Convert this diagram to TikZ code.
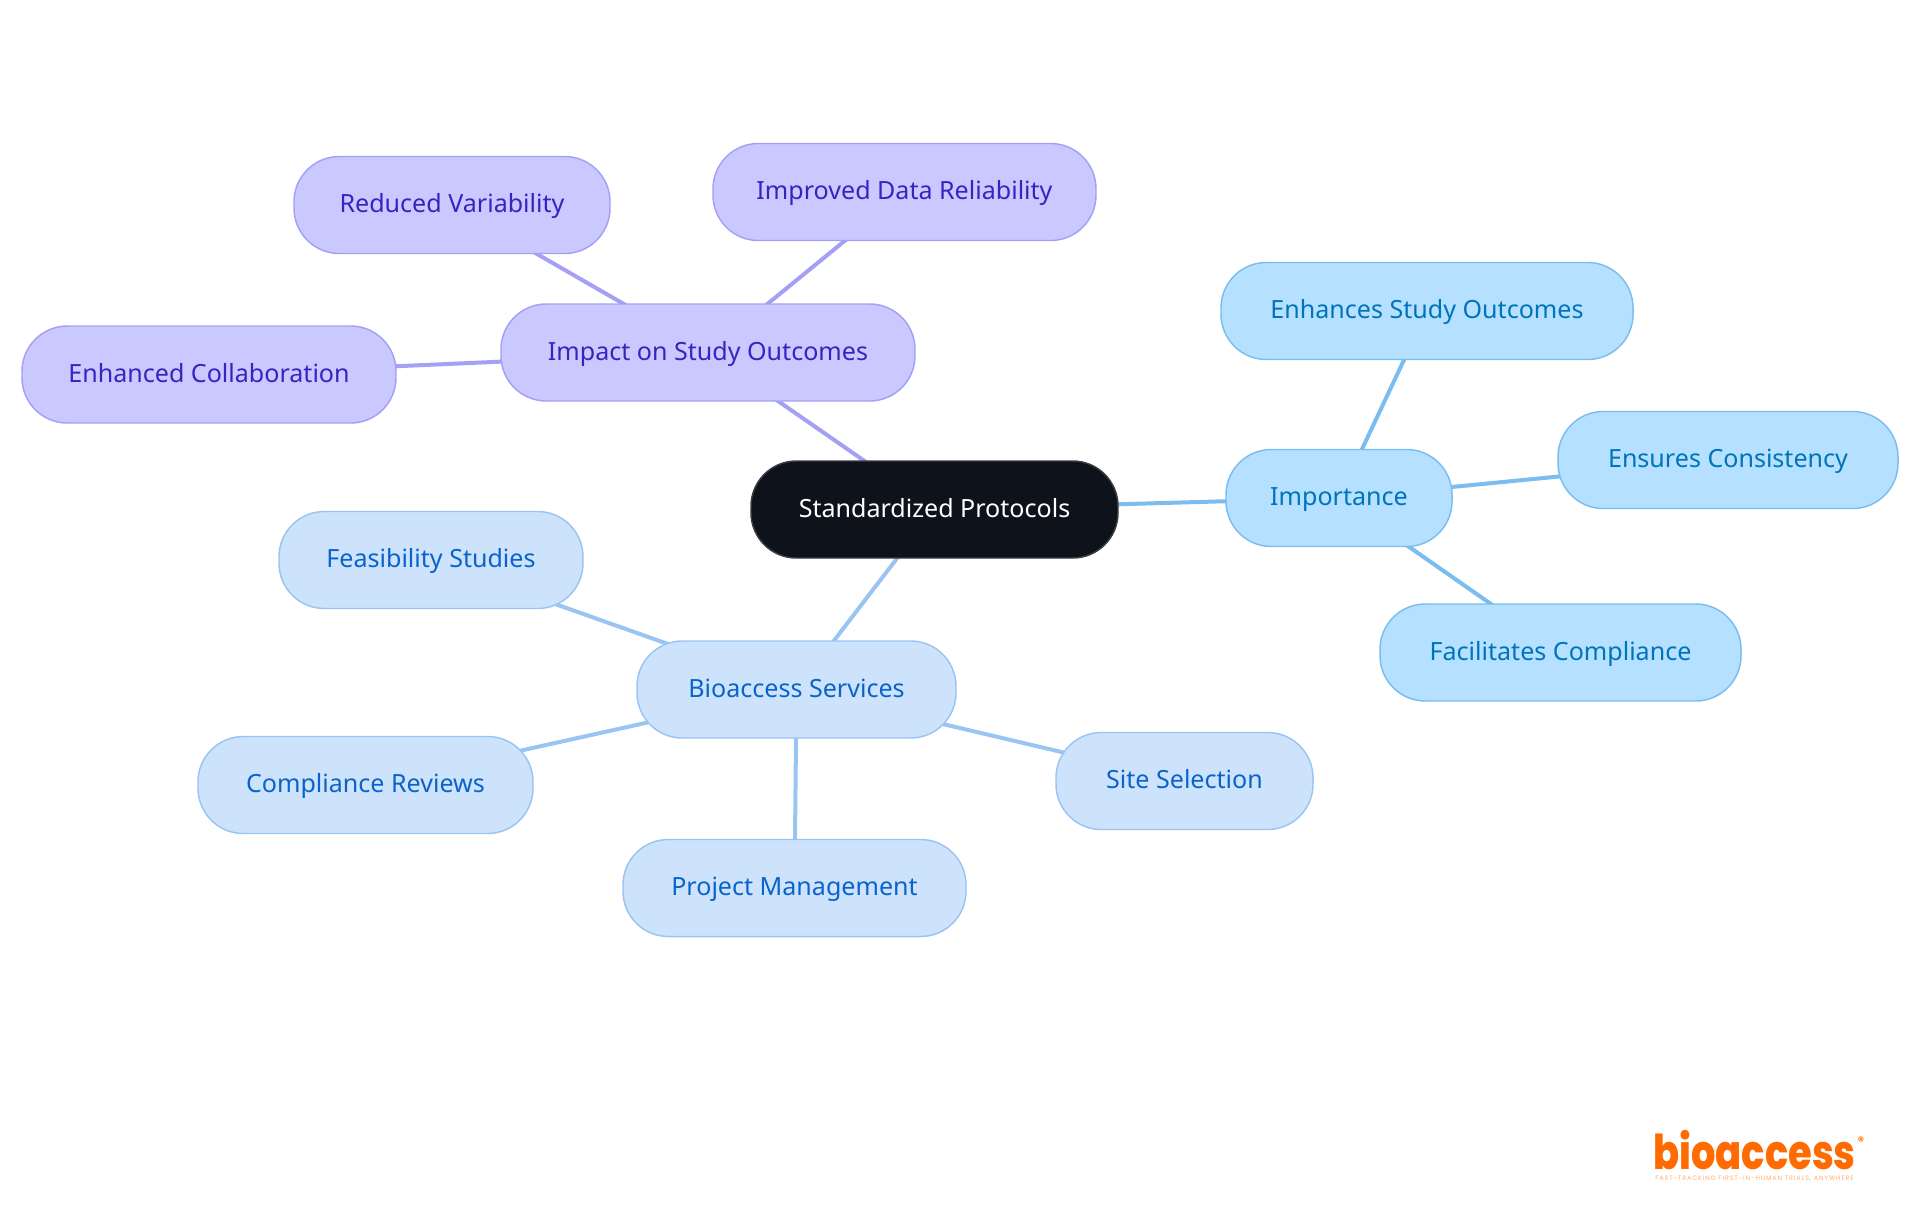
\documentclass[tikz,border=0pt]{standalone}
\usepackage{fontspec}
\setmainfont{Noto Sans}
\newfontfamily\logofont{Poppins ExtraBold}
\newfontfamily\regfont{Poppins}
\newfontfamily\tagfont[LetterSpace=14]{Poppins}
\usetikzlibrary{backgrounds}
\definecolor{rootfill}{HTML}{0D121B}
\definecolor{rootline}{HTML}{3A3D44}
\definecolor{purfill}{HTML}{C9C9FF}
\definecolor{purline}{HTML}{A3A0F5}
\definecolor{purtext}{HTML}{3A22C0}
\definecolor{skyfill}{HTML}{B5E0FF}
\definecolor{skyline}{HTML}{7ABDEE}
\definecolor{skytext}{HTML}{0074BA}
\definecolor{blufill}{HTML}{CDE3FC}
\definecolor{bluline}{HTML}{9AC4F2}
\definecolor{blutext}{HTML}{0A63CC}
\definecolor{logoorange}{HTML}{FF6B00}
\tikzset{
  pill/.style n args={2}{rounded corners=34pt,minimum width=#1*.75pt,minimum height=#2*.75pt,inner sep=0pt,line width=1.1pt,text height=15pt,text depth=3.75pt,font=\fontsize{18.8pt}{24pt}\selectfont},
  rootpill/.style={draw=rootline,fill=rootfill,text=white},
  purpill/.style={draw=purline,fill=purfill,text=purtext},
  skypill/.style={draw=skyline,fill=skyfill,text=skytext},
  blupill/.style={draw=bluline,fill=blufill,text=blutext},
  link/.style={line width=3pt},
}
\begin{document}
\begin{tikzpicture}[x=.75pt,y=-.75pt]
\useasboundingbox (0,0) rectangle (1920,1215);
\node[pill={367}{97},rootpill] (root) at (934.5,509.5) {Standardized Protocols};
\node[pill={226}{97},skypill] (imp) at (1339,498) {Importance};
\node[pill={412}{97},skypill] (enh) at (1427,311) {Enhances Study Outcomes};
\node[pill={340}{97},skypill] (ens) at (1728,460) {Ensures Consistency};
\node[pill={361}{97},skypill] (fac) at (1560.5,652.5) {Facilitates Compliance};
\node[pill={414}{97},purpill] (out) at (708,352.5) {Impact on Study Outcomes};
\node[pill={316}{97},purpill] (red) at (452,205) {Reduced Variability};
\node[pill={383}{97},purpill] (rel) at (904.5,192) {Improved Data Reliability};
\node[pill={374}{97},purpill] (col) at (209,374.5) {Enhanced Collaboration};
\node[pill={319}{97},blupill] (bio) at (796.5,689.5) {Bioaccess Services};
\node[pill={304}{97},blupill] (fea) at (431,560) {Feasibility Studies};
\node[pill={335}{97},blupill] (rev) at (365.5,785) {Compliance Reviews};
\node[pill={343}{97},blupill] (prj) at (794.5,888) {Project Management};
\node[pill={257}{97},blupill] (sit) at (1184.5,781) {Site Selection};
\begin{scope}[on background layer]
\draw[link,skyline] (root.center)--(imp.center);
\draw[link,skyline] (imp.center)--(enh.center);
\draw[link,skyline] (imp.center)--(ens.center);
\draw[link,skyline] (imp.center)--(fac.center);
\draw[link,purline] (root.center)--(out.center);
\draw[link,purline] (out.center)--(red.center);
\draw[link,purline] (out.center)--(rel.center);
\draw[link,purline] (out.center)--(col.center);
\draw[link,bluline] (root.center)--(bio.center);
\draw[link,bluline] (bio.center)--(fea.center);
\draw[link,bluline] (bio.center)--(rev.center);
\draw[link,bluline] (bio.center)--(prj.center);
\draw[link,bluline] (bio.center)--(sit.center);
\end{scope}
\node[anchor=base west,inner sep=0pt,text=logoorange,font=\logofont\fontsize{36pt}{36pt}\selectfont] (logo) at (1653,1169) {\scalebox{.8}[1]{bioaccess}};
\node[inner sep=0pt,text=logoorange,font=\regfont\bfseries\fontsize{9pt}{9pt}\selectfont] (reg) at (1861,1141) {®};
\node[anchor=base west,inner sep=0pt,text=logoorange!55,font=\tagfont\fontsize{4.8pt}{5pt}\selectfont] (tag) at (1655,1180) {FAST-TRACKING FIRST-IN-HUMAN TRIALS, ANYWHERE};
\end{tikzpicture}
\end{document}
